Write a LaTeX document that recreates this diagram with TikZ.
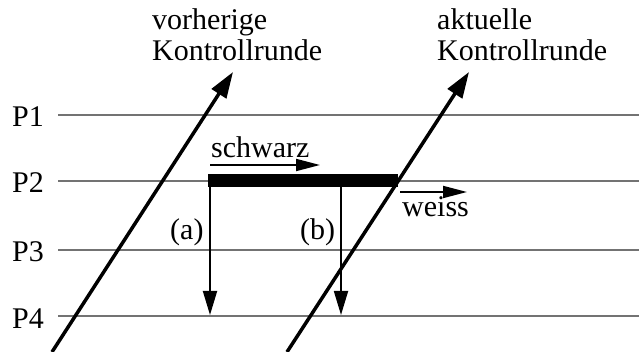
\documentclass[tikz,border=0pt]{standalone}
\usepackage{fontspec}
\setmainfont{Liberation Serif}
\usetikzlibrary{arrows.meta}

\begin{document}
\begin{tikzpicture}[x=1pt, y=-1pt, >={Triangle[length=24pt, width=14pt]},
  txt/.style={font=\fontsize{30}{31}\selectfont, inner sep=0pt, anchor=base west, align=left},
  track/.style={draw=black!55, line width=1.5pt},
  round/.style={->, line width=3.5pt, >={Triangle[length=26pt, width=17pt]}},
  msg/.style={->, line width=1.8pt}]
  \useasboundingbox (0,0) rectangle (639,352);
  % Prozesse
  \foreach \i/\y in {1/115,2/181,3/250,4/316} {
    \node[txt] (p\i) at (12,\y+12) {P\i};
    \coordinate (s\i) at (58,\y);
    \coordinate (e\i) at (639,\y);
    \draw[track] (s\i) -- (e\i);
  }
  % Kontrollrunden
  \coordinate (v0) at (52,352); \coordinate (v1) at (233,72);
  \coordinate (a0) at (287,352); \coordinate (a1) at (469,72);
  \draw[round] (v0) -- (v1);
  \draw[round] (a0) -- (a1);
  \node[txt] (vor) at (152,61) {vorherige\\Kontrollrunde};
  \node[txt] (akt) at (437,61) {aktuelle\\Kontrollrunde};
  % schwarze Phase
  \coordinate (b0) at (208,180.5); \coordinate (b1) at (398,180.5);
  \draw[line width=13pt] (b0) -- (b1);
  \coordinate (qa) at (210,187); \coordinate (za) at (210,315);
  \coordinate (qb) at (341,187); \coordinate (zb) at (341,315);
  \draw[msg] (qa) -- (za);
  \draw[msg] (qb) -- (zb);
  \node[txt] (la) at (170,240) {(a)};
  \node[txt] (lb) at (300,240) {(b)};
  \coordinate (sw0) at (210,165); \coordinate (sw1) at (320,165);
  \draw[msg, >={Triangle[length=24pt, width=12pt]}] (sw0) -- (sw1);
  \node[txt] (schwarz) at (211,158) {schwarz};
  \coordinate (ws0) at (400,192); \coordinate (ws1) at (467,192);
  \draw[msg, >={Triangle[length=24pt, width=12pt]}] (ws0) -- (ws1);
  \node[txt] (weiss) at (402,217) {weiss};
\end{tikzpicture}
\end{document}
